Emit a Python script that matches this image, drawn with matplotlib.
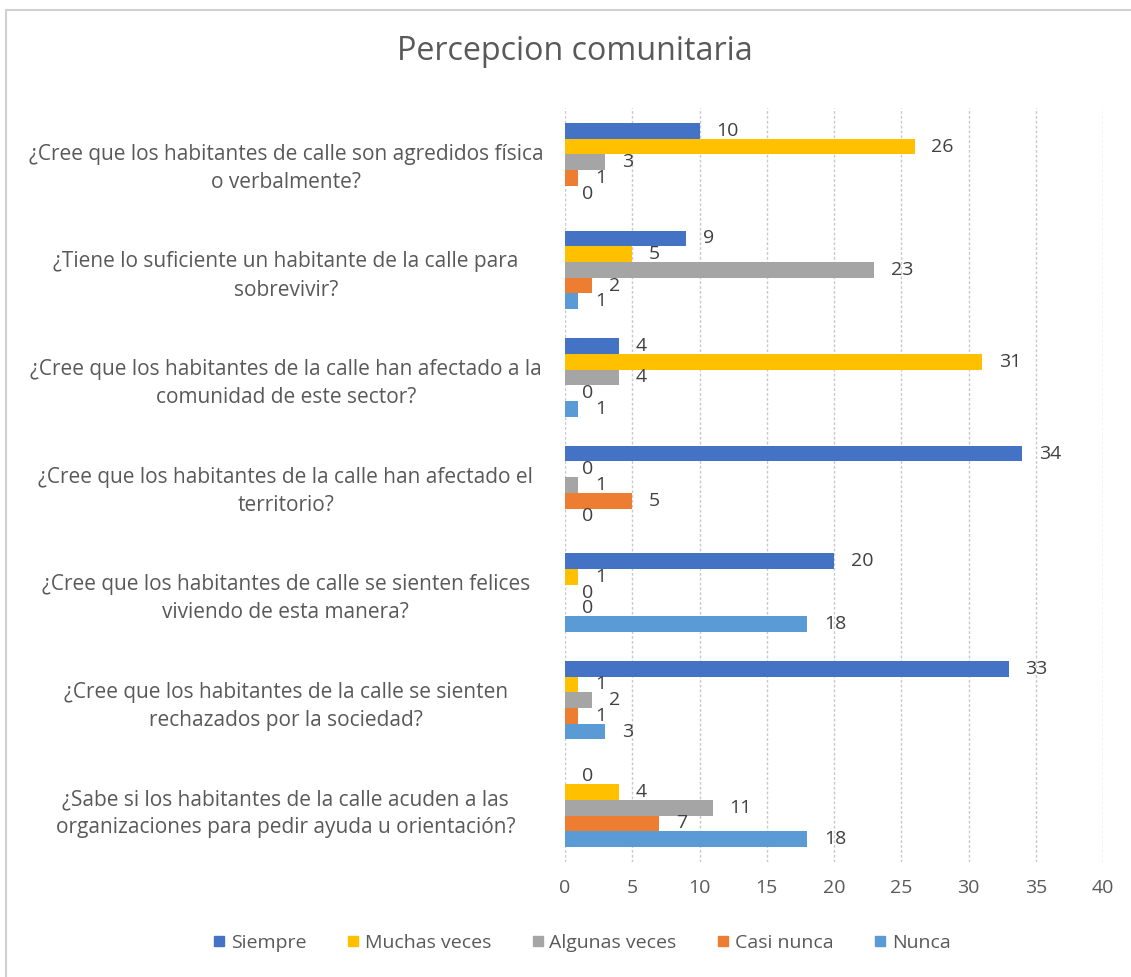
import matplotlib
matplotlib.use("Agg")
import matplotlib.pyplot as plt
import numpy as np
from matplotlib.lines import Line2D

categories = [
    "¿Cree que los habitantes de calle son agredidos física\no verbalmente?",
    "¿Tiene lo suficiente un habitante de la calle para\nsobrevivir?",
    "¿Cree que los habitantes de la calle han afectado a la\ncomunidad de este sector?",
    "¿Cree que los habitantes de la calle han afectado el\nterritorio?",
    "¿Cree que los habitantes de calle se sienten felices\nviviendo de esta manera?",
    "¿Cree que los habitantes de la calle se sienten\nrechazados por la sociedad?",
    "¿Sabe si los habitantes de la calle acuden a las\norganizaciones para pedir ayuda u orientación?",
]
series_names = ["Siempre", "Muchas veces", "Algunas veces", "Casi nunca", "Nunca"]
siempre = [10, 9, 4, 34, 20, 33, 0]
muchas_veces = [26, 5, 31, 0, 1, 1, 4]
algunas_veces = [3, 23, 4, 1, 0, 2, 11]
casi_nunca = [1, 2, 0, 5, 0, 1, 7]
nunca = [0, 1, 1, 0, 18, 3, 18]
series_values = [siempre, muchas_veces, algunas_veces, casi_nunca, nunca]
colors = ["#4472C4", "#FFC000", "#A5A5A5", "#ED7D31", "#5B9BD5"]
x_ticks = [0, 5, 10, 15, 20, 25, 30, 35, 40]

plt.rcParams['font.family'] = ['Open Sans', 'DejaVu Sans']
text_color = "#595959"

fig = plt.figure(figsize=(11.31, 9.77), dpi=100)
W, H = 1131, 977
left, right, top, bottom = 565, 1103, 108.5, 861.5
ax = fig.add_axes([left / W, 1 - bottom / H, (right - left) / W, (bottom - top) / H])

n = len(series_names)
bar_h = 0.146
y = np.arange(len(categories))
for i, (name, vals, c) in enumerate(zip(series_names, series_values, colors)):
    pos = y + (i - (n - 1) / 2) * bar_h
    bars = ax.barh(pos, vals, height=bar_h, color=c, label=name, zorder=3)
    ax.bar_label(bars, labels=[str(v) for v in vals], padding=12,
                 fontsize=14, color="#404040")

ax.set_xlim(0, 40)
ax.set_ylim(len(categories) - 0.5, -0.5)
ax.set_xticks(x_ticks)
ax.set_xticklabels([str(t) for t in x_ticks])
ax.set_yticks(y)
ax.set_yticklabels(categories, fontsize=15, color=text_color,
                   ha='center', multialignment='center', linespacing=1.45)
ax.tick_params(axis='y', length=0, pad=201)
ax.tick_params(axis='x', length=0, pad=12.6, labelsize=14, labelcolor=text_color)
ax.grid(axis='x', color="#C8C8C8", linestyle=(0, (2, 1.5)), linewidth=1, zorder=0)
for s in ax.spines.values():
    s.set_visible(False)

fig.suptitle("Percepcion comunitaria", x=575 / W, y=1 - 52 / H, va='center',
             fontsize=23.2, color=text_color)

handles = [Line2D([0], [0], marker='s', linestyle='none', markersize=7,
                  markerfacecolor=c, markeredgecolor=c) for c in colors]
fig.legend(handles, series_names, loc='center', bbox_to_anchor=(580 / W, 1 - 943 / H),
           ncol=5, frameon=False, fontsize=14, labelcolor=text_color,
           handletextpad=0.1, columnspacing=1.9, handlelength=1.0)

# chart border (top and left visible)
fig.add_artist(Line2D([6 / W, 1], [1 - 10 / H, 1 - 10 / H], color="#D0D0D0", lw=1.5,
                      transform=fig.transFigure))
fig.add_artist(Line2D([6 / W, 6 / W], [0, 1 - 10 / H], color="#D0D0D0", lw=1.5,
                      transform=fig.transFigure))

fig.savefig("out.png", dpi=100, facecolor="white")
